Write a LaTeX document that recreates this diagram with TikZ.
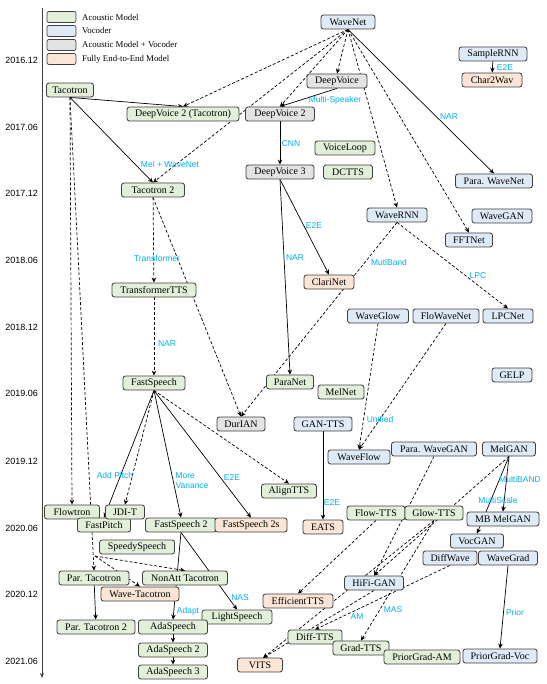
\documentclass[tikz,border=0pt]{standalone}
\usepackage{fontspec}
\setmainfont{Liberation Serif}
\newfontfamily\lsans{Liberation Sans}
\usetikzlibrary{arrows.meta,backgrounds,calc}
\definecolor{amc}{HTML}{E2F0D9}
\definecolor{voc}{HTML}{DEEBF7}
\definecolor{amv}{HTML}{E3E3E3}
\definecolor{eec}{HTML}{FBE5D6}
\definecolor{lbl}{HTML}{00B0F0}
\definecolor{bord}{HTML}{3F3F3F}
\tikzset{
 box/.style={draw=bord, line width=0.85pt, rounded corners=2.5pt, minimum height=14pt, inner sep=0pt, font=\fontsize{10}{12}\selectfont},
 am/.style={box, fill=amc},
 vc/.style={box, fill=voc},
 av/.style={box, fill=amv},
 ee/.style={box, fill=eec},
 conn/.style={line width=0.7pt, -{Stealth[length=5pt,width=4.5pt]}},
 dconn/.style={conn, dash pattern=on 3pt off 2pt},
 elab/.style={text=lbl, font=\lsans\fontsize{8.5}{10}\selectfont, inner sep=0pt, align=left},
 year/.style={font=\lsans\fontsize{9}{11}\selectfont, anchor=east, inner sep=0pt},
 legbox/.style={draw=bord, line width=0.7pt, rounded corners=2pt, minimum width=29pt, minimum height=11pt, inner sep=0pt},
 legtext/.style={anchor=west, font=\fontsize{8.8}{10}\selectfont, inner sep=0pt},
}
\begin{document}
\begin{tikzpicture}[x=1pt,y=-1pt]
\useasboundingbox (0,0) rectangle (546,684);
% timeline
\coordinate (axtop) at (42,8);
\coordinate (axbot) at (42,678);
\draw[line width=0.9pt, draw=bord, -{Stealth[length=5pt,width=4pt]}] (axtop) -- (axbot);
\node[year] (y1) at (38,60) {2016.12};
\node[year] (y2) at (38,127) {2017.06};
\node[year] (y3) at (38,193) {2017.12};
\node[year] (y4) at (38,260) {2018.06};
\node[year] (y5) at (38,327) {2018.12};
\node[year] (y6) at (38,393) {2019.06};
\node[year] (y7) at (38,461) {2019.12};
\node[year] (y8) at (38,528) {2020.06};
\node[year] (y9) at (38,594) {2020.12};
\node[year] (y10) at (38,661) {2021.06};
% legend
\node[legbox, fill=amc] (l1) at (61.5,17) {};
\node[legbox, fill=voc] (l2) at (61.5,31) {};
\node[legbox, fill=amv] (l3) at (61.5,45) {};
\node[legbox, fill=eec] (l4) at (61.5,59) {};
\node[legtext] (t1) at (82,17) {Acoustic Model};
\node[legtext] (t2) at (82,31) {Vocoder};
\node[legtext] (t3) at (82,45) {Acoustic Model + Vocoder};
\node[legtext] (t4) at (82,59) {Fully End-to-End Model};
% nodes
\node[vc, minimum width=54pt] (wavenet) at (348,22) {WaveNet};
\node[vc, minimum width=68pt] (samplernn) at (493,54) {SampleRNN};
\node[ee, minimum width=60pt] (char2wav) at (492,80) {Char2Wav};
\node[av, minimum width=60pt] (deepvoice) at (337,81) {DeepVoice};
\node[am, minimum width=47pt] (tacotron) at (70,90) {Tacotron};
\node[am, minimum width=112pt] (dv2t) at (183,114) {DeepVoice 2 (Tacotron)};
\node[av, minimum width=69pt] (dv2) at (280,114) {DeepVoice 2};
\node[am, minimum width=60pt] (voiceloop) at (345,148) {VoiceLoop};
\node[av, minimum width=68pt] (dv3) at (280,172) {DeepVoice 3};
\node[am, minimum width=49pt] (dctts) at (348,172) {DCTTS};
\node[vc, minimum width=77pt] (parawavenet) at (494,181) {Para. WaveNet};
\node[am, minimum width=63pt] (tacotron2) at (153,190) {Tacotron 2};
\node[vc, minimum width=60pt] (wavernn) at (397,215) {WaveRNN};
\node[vc, minimum width=60pt] (wavegan) at (502,216) {WaveGAN};
\node[vc, minimum width=47pt] (fftnet) at (469,240) {FFTNet};
\node[ee, minimum width=50pt] (clarinet) at (329,282) {ClariNet};
\node[am, minimum width=84pt] (transformertts) at (154,290) {TransformerTTS};
\node[vc, minimum width=61pt] (waveglow) at (378,316) {WaveGlow};
\node[vc, minimum width=66pt] (flowavenet) at (446,316) {FloWaveNet};
\node[vc, minimum width=50pt] (lpcnet) at (508,316) {LPCNet};
\node[vc, minimum width=40pt] (gelp) at (512,375) {GELP};
\node[am, minimum width=47pt] (paranet) at (290,382) {ParaNet};
\node[am, minimum width=46pt] (melnet) at (341,392) {MelNet};
\node[am, minimum width=62pt] (fastspeech) at (154,383) {FastSpeech};
\node[av, minimum width=48pt] (durian) at (241,424) {DurIAN};
\node[vc, minimum width=58pt] (gantts) at (323,424) {GAN-TTS};
\node[vc, minimum width=62pt] (waveflow) at (359,457) {WaveFlow};
\node[vc, minimum width=85pt] (parawavegan) at (434,449) {Para. WaveGAN};
\node[vc, minimum width=53pt] (melgan) at (509,449) {MelGAN};
\node[am, minimum width=55pt] (aligntts) at (289,491) {AlignTTS};
\node[am, minimum width=55pt] (flowtron) at (72,512) {Flowtron};
\node[am, minimum width=53pt] (fastpitch) at (104,525) {FastPitch};
\node[am, minimum width=39pt] (jdit) at (125,512) {JDI-T};
\node[am, minimum width=71pt] (fastspeech2) at (181,525) {FastSpeech 2};
\node[ee, minimum width=72pt] (fastspeech2s) at (251,525) {FastSpeech 2s};
\node[ee, minimum width=40pt] (eats) at (323,527) {EATS};
\node[am, minimum width=58pt] (flowtts) at (376,513) {Flow-TTS};
\node[am, minimum width=58pt] (glowtts) at (434,513) {Glow-TTS};
\node[vc, minimum width=72pt] (mbmelgan) at (503,519) {MB MelGAN};
\node[vc, minimum width=53pt] (vocgan) at (477,541) {VocGAN};
\node[am, minimum width=75pt] (speedyspeech) at (137,547) {SpeedySpeech};
\node[vc, minimum width=54pt] (diffwave) at (450,558) {DiffWave};
\node[vc, minimum width=59pt] (wavegrad) at (508,558) {WaveGrad};
\node[am, minimum width=70pt] (partacotron) at (94,578) {Par. Tacotron};
\node[am, minimum width=85pt] (nonatt) at (185,578) {NonAtt Tacotron};
\node[ee, minimum width=78pt] (wavetacotron) at (140,594) {Wave-Tacotron};
\node[vc, minimum width=59pt] (hifigan) at (374,583) {HiFi-GAN};
\node[ee, minimum width=70pt] (efficienttts) at (298,601) {EfficientTTS};
\node[am, minimum width=78pt] (partacotron2) at (96,627) {Par. Tacotron 2};
\node[am, minimum width=70pt] (lightspeech) at (237,617) {LightSpeech};
\node[am, minimum width=69pt] (adaspeech) at (173,627) {AdaSpeech};
\node[am, minimum width=69pt] (adaspeech2) at (173,650) {AdaSpeech 2};
\node[am, minimum width=69pt] (adaspeech3) at (173,672) {AdaSpeech 3};
\node[ee, minimum width=45pt] (vits) at (260,665) {VITS};
\node[am, minimum width=54pt] (difftts) at (315,637) {Diff-TTS};
\node[am, minimum width=56pt] (gradtts) at (361,648) {Grad-TTS};
\node[am, minimum width=76pt] (priorgradam) at (422,657) {PriorGrad-AM};
\node[vc, minimum width=74pt] (priorgradvoc) at (500,656) {PriorGrad-Voc};
\coordinate (fork) at (95,556);
\coordinate (vitsin) at (263,658);
% edge labels
\node[elab] (lb1) at (505,68) {E2E};
\node[elab] (lb2) at (335,100) {Multi-Speaker};
\node[elab] (lb3) at (449,117) {NAR};
\node[elab] (lb4) at (291,144) {CNN};
\node[elab] (lb5) at (170,164) {Mel + WaveNet};
\node[elab] (lb6) at (314,226) {E2E};
\node[elab] (lb7) at (157,258) {Transformer};
\node[elab] (lb8) at (295,258) {NAR};
\node[elab] (lb9) at (389,262) {MutiBand};
\node[elab] (lb10) at (478,276) {LPC};
\node[elab] (lb11) at (167,344) {NAR};
\node[elab] (lb12) at (380,419) {Unified};
\node[elab] (lb13) at (115,475) {Add Pitch};
\node[elab] (lb14) at (192,481) {More\\Variance};
\node[elab] (lb15) at (232,478) {E2E};
\node[elab] (lb16) at (332,503) {E2E};
\node[elab] (lb17) at (520,479) {MultiBAND};
\node[elab] (lb18) at (498,500) {MultiScale};
\node[elab] (lb19) at (188,611) {Adapt};
\node[elab] (lb20) at (240,598) {NAS};
\node[elab] (lb21) at (393,610) {MAS};
\node[elab] (lb22) at (357,617) {AM};
\node[elab] (lb23) at (515,612) {Prior};
% edges
\begin{pgfonlayer}{background}
\draw[dconn] (wavenet.south) -- (dv2t.north);
\draw[dconn] (wavenet.south) -- (dv2.north);
\draw[dconn] (wavenet.south) -- (deepvoice.north);
\draw[dconn] (wavenet.south) -- (tacotron2.north);
\draw[dconn] (wavenet.south) -- (wavernn.north);
\draw[dconn] (wavenet.south) -- (fftnet.north);
\draw[conn] (wavenet.south) -- (parawavenet.north);
\draw[conn] (samplernn) -- (char2wav);
\draw[conn] (tacotron.south) -- (dv2t.north);
\draw[conn] (tacotron.south) -- (tacotron2.north);
\draw[dconn] (tacotron.south) -- (flowtron.north);
\draw[dconn] (tacotron.south) -- (partacotron.north);
\draw[conn] (deepvoice.south) -- (dv2.north);
\draw[conn] (dv2) -- (dv3);
\draw[conn] (dv3.south) -- (clarinet.north);
\draw[conn] (dv3.south) -- (paranet.north);
\draw[dconn] (tacotron2) -- (transformertts);
\draw[dconn] (tacotron2.south) -- (durian.north);
\draw[dconn] (wavernn.south) -- (durian.north);
\draw[dconn] (wavernn.south) -- (lpcnet.north);
\draw[dconn] (transformertts) -- (fastspeech);
\draw[dconn] (waveglow.south) -- (waveflow.north);
\draw[dconn] (flowavenet.south) -- (waveflow.north);
\draw[conn] (gantts) -- (eats);
\draw[conn] (fastspeech.south) -- (fastpitch.north);
\draw[dconn] (fastspeech.south) -- (jdit.north);
\draw[conn] (fastspeech.south) -- (fastspeech2.north);
\draw[conn] (fastspeech.south) -- (fastspeech2s.north);
\draw[dconn] (fastspeech.south) -- (aligntts.north);
\draw[conn] (fastspeech2.south) -- (adaspeech.north);
\draw[conn] (fastspeech2.south) -- (lightspeech.north);
\draw[dconn] (fork) -- (nonatt.north);
\draw[dconn] (fork) -- (wavetacotron.north);
\draw[conn] (partacotron) -- (partacotron2);
\draw[conn] (adaspeech) -- (adaspeech2);
\draw[conn] (adaspeech2) -- (adaspeech3);
\draw[conn] (melgan.south) -- (mbmelgan.north);
\draw[conn] (melgan.south) -- (vocgan.north);
\draw[dconn] (melgan.south) -- (hifigan.north);
\draw[dconn] (parawavegan.south) -- (hifigan.north);
\draw[dconn] (flowtts.south) -- (efficienttts.north);
\draw[dconn] (glowtts.south) -- (gradtts.north);
\draw[dconn] (glowtts.south) -- (vitsin);
\draw[dconn] (hifigan.south) -- (vitsin);
\draw[dconn] (diffwave.south) -- (difftts.north);
\draw[conn] (wavegrad.south) -- (priorgradvoc.north);
\end{pgfonlayer}
\end{tikzpicture}
\end{document}
